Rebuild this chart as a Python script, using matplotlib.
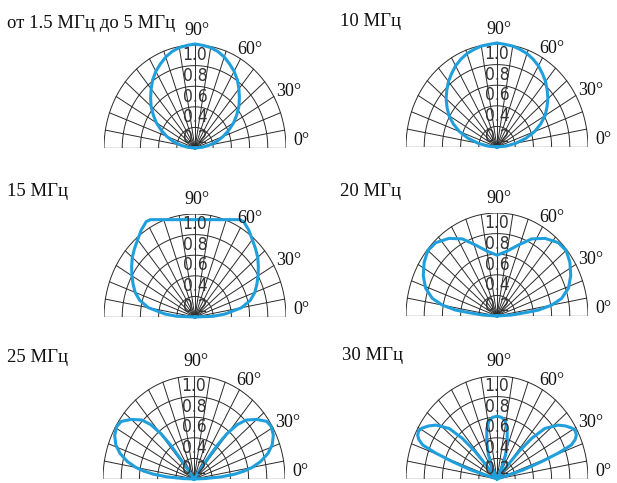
import numpy as np
import matplotlib
matplotlib.use("Agg")
import matplotlib.pyplot as plt
from matplotlib import font_manager

# patterns: angle (deg, 0..90) and relative level,
# mirrored about 90 deg when drawn
ang_1_5 = [0, 5, 10, 15, 20, 25, 30, 35, 40, 45, 50, 55, 60, 65, 70, 75, 80, 85, 90]
r_1_5 = [0, 0.08, 0.16, 0.25, 0.33, 0.41, 0.49, 0.56, 0.63, 0.69, 0.75, 0.81,
         0.86, 0.90, 0.94, 0.97, 0.99, 1.0, 1.01]

ang_10 = [0, 5, 10, 15, 20, 25, 30, 35, 40, 45, 50, 55, 60, 65, 70, 75, 80, 85, 90]
r_10 = [0, 0.10, 0.21, 0.33, 0.44, 0.53, 0.61, 0.67, 0.73, 0.78, 0.83, 0.87,
        0.91, 0.94, 0.965, 0.98, 0.995, 1.0, 1.01]

ang_15 = [0, 2, 5, 10, 15, 20, 25, 30, 35, 40, 45, 50, 55, 60, 62.5, 65, 70,
          75, 80, 85, 90]
r_15 = [0, 0.2, 0.33, 0.52, 0.63, 0.70, 0.75, 0.80, 0.85, 0.90, 0.94, 0.98,
        1.03, 1.07, 1.065, 1.043, 1.006, 0.978, 0.96, 0.949, 0.945]

ang_20 = [0, 3.5, 6, 7.2, 10, 13.5, 19, 25.8, 33, 39.8, 46.6, 55, 63, 71, 80, 90]
r_20 = [0, 0.16, 0.31, 0.46, 0.61, 0.73, 0.83, 0.90, 0.955, 0.99, 0.98, 0.92,
        0.84, 0.73, 0.64, 0.59]

ang_25 = [0, 2, 4, 6, 8, 10, 13, 17, 21, 26, 31, 35, 40, 45, 48, 50.5, 52, 53,
          54, 90]
r_25 = [0, 0.12, 0.3, 0.45, 0.56, 0.65, 0.75, 0.85, 0.92, 0.97, 0.99, 0.975,
        0.90, 0.81, 0.71, 0.57, 0.42, 0.22, 0, 0]

ang_30 = [0, 14, 17, 19, 20.5, 22, 24, 26, 28.5, 31, 34.5, 38, 43, 46, 48, 49,
          50, 62, 65, 68, 72.5, 77, 81, 85, 90]
r_30 = [0, 0, 0.3, 0.52, 0.72, 0.88, 0.94, 0.97, 0.98, 0.96, 0.91, 0.85, 0.72,
        0.55, 0.36, 0.14, 0, 0, 0.13, 0.25, 0.37, 0.50, 0.57, 0.60, 0.61]

titles = ["от 1.5 МГц до 5 МГц", "10 МГц", "15 МГц", "20 МГц", "25 МГц", "30 МГц"]
patterns = [(ang_1_5, r_1_5), (ang_10, r_10), (ang_15, r_15),
            (ang_20, r_20), (ang_25, r_25), (ang_30, r_30)]
ring_labels = ["0.2", "0.4", "0.6", "0.8", "1.0"]
angle_labels = ["0°", "30°", "60°", "90°"]

# narrow font for the ring labels, whatever is there
names = {f.name for f in font_manager.fontManager.ttflist}
lab_kw = dict(family="Liberation Sans", fontsize=12.5)
if "Liberation Sans Narrow" in names:
    lab_kw = dict(family="Liberation Sans Narrow", fontsize=15)
elif any(f.name == "DejaVu Sans" and f.stretch == "condensed"
         for f in font_manager.fontManager.ttflist):
    lab_kw = dict(family="DejaVu Sans", stretch="condensed", fontsize=12.5)

W, H = 617, 483
fig = plt.figure(figsize=(W / 100, H / 100), dpi=100)
fig.patch.set_facecolor("white")

# panel centres in pixels (x, y from top)
centres = [(195, 148), (497, 147), (195, 317), (497, 316), (194, 479), (497, 479)]
RX, RY = 91, 103
title_pos = [(7, 23), (340, 22), (7, 192), (340, 192), (7, 357), (342, 355)]

blue = "#1f9fdc"
grid_c = "#2a2a2a"


def draw_grid(ax):
    t = np.linspace(0, np.pi, 200)
    for r in [0.2, 0.4, 0.6, 0.8, 1.0]:
        ax.plot(r * np.cos(t), r * np.sin(t), color=grid_c, lw=0.7)
    for a in range(10, 180, 10):
        a = np.radians(a)
        ax.plot([0, np.cos(a)], [0, np.sin(a)], color=grid_c, lw=0.7)
    ax.plot([-1, 1], [0, 0], color=grid_c, lw=0.9)
    for lab in ring_labels:
        ax.text(0, float(lab) - 0.1, lab, ha="center", va="center",
                color="#333333", **lab_kw)
    pos = [(1.17, 0.07), (1.03, 0.55), (0.6, 0.96), (0.02, 1.14)]
    for (x, y), lab in zip(pos, angle_labels):
        ax.text(x, y, lab, ha="center", va="center", fontsize=13,
                family="Liberation Serif", color="#111111")


for i in range(6):
    cx, cy = centres[i]
    ax = fig.add_axes([(cx - RX) / W, (H - cy) / H, 2 * RX / W, RY / H])
    ax.set_xlim(-1, 1)
    ax.set_ylim(0, 1)
    ax.axis("off")
    draw_grid(ax)

    ang, r = patterns[i]
    th = np.radians(ang + [180 - a for a in ang[::-1]])
    rr = np.array(r + r[::-1])
    ax.plot(rr * np.cos(th), rr * np.sin(th), color=blue, lw=2.2,
            clip_on=False, solid_joinstyle="round")

    tx, ty = title_pos[i]
    fig.text(tx / W, 1 - ty / H, titles[i], ha="left", va="center",
             fontsize=13.5, family="Liberation Serif", color="#111111")

fig.savefig("out.png", dpi=100)
